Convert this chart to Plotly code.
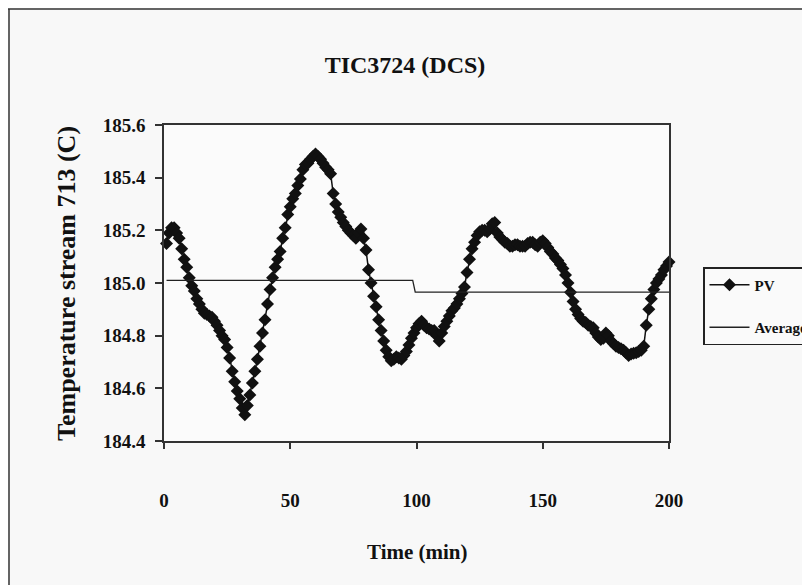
import plotly.graph_objects as go

# ---- data ----
pv_time = list(range(1, 203))
pv_values = [
    185.15, 185.19, 185.21, 185.21, 185.19, 185.17, 185.13, 185.09, 185.06, 185.02,
    184.99, 184.97, 184.94, 184.92, 184.90, 184.885, 184.88, 184.875, 184.87, 184.855,
    184.84, 184.82, 184.80, 184.785, 184.755, 184.715, 184.665, 184.625, 184.59, 184.56,
    184.525, 184.50, 184.535, 184.575, 184.62, 184.665, 184.71, 184.76, 184.81, 184.86,
    184.92, 184.975, 185.02, 185.06, 185.09, 185.12, 185.17, 185.21, 185.26, 185.29,
    185.32, 185.34, 185.37, 185.395, 185.43, 185.45, 185.455, 185.47, 185.48, 185.49,
    185.48, 185.47, 185.455, 185.44, 185.43, 185.415, 185.34, 185.30, 185.27, 185.25,
    185.23, 185.215, 185.20, 185.19, 185.18, 185.17, 185.19, 185.205, 185.17, 185.125,
    185.05, 185.00, 184.95, 184.91, 184.86, 184.82, 184.78, 184.745, 184.72, 184.705,
    184.71, 184.72, 184.715, 184.71, 184.725, 184.74, 184.765, 184.79, 184.81, 184.83,
    184.845, 184.855, 184.84, 184.83, 184.825, 184.82, 184.82, 184.80, 184.78, 184.81,
    184.835, 184.855, 184.875, 184.895, 184.905, 184.92, 184.94, 184.96, 184.985, 185.04,
    185.09, 185.13, 185.155, 185.18, 185.195, 185.20, 185.20, 185.195, 185.205, 185.225,
    185.23, 185.19, 185.175, 185.165, 185.155, 185.15, 185.14, 185.14, 185.145, 185.145,
    185.14, 185.14, 185.14, 185.15, 185.155, 185.155, 185.145, 185.14, 185.155, 185.16,
    185.15, 185.135, 185.12, 185.11, 185.095, 185.085, 185.07, 185.055, 185.03, 185.00,
    184.965, 184.93, 184.90, 184.88, 184.865, 184.855, 184.85, 184.84, 184.835, 184.83,
    184.81, 184.795, 184.785, 184.79, 184.81, 184.80, 184.78, 184.77, 184.76, 184.755,
    184.75, 184.745, 184.735, 184.725, 184.73, 184.733, 184.735, 184.74, 184.745, 184.76,
    184.84, 184.90, 184.94, 184.975, 185.00, 185.015, 185.03, 185.05, 185.065, 185.08,
    185.09, 185.10,
]
avg_time = [1, 98.5, 99.5, 202]
avg_values = [185.01, 185.01, 184.965, 184.965]

x_ticks = [0, 50, 100, 150, 200]
y_ticks = [184.4, 184.6, 184.8, 185.0, 185.2, 185.4, 185.6]

title_text = "TIC3724 (DCS)"
x_title = "Time (min)"
y_title = "Temperature stream 713 (C)"

# ---- figure ----
FONT = "Liberation Serif, Times New Roman, serif"
OFF = 8  # page body margin
W, H = 810, 585
# desired page positions of the plot area
L, R, T, B = 164 - OFF, 669 - OFF, 125 - OFF, 441 - OFF
pw, ph = R - L, B - T

def px_x(px):
    """page px -> paper x"""
    return (px - OFF - L) / pw

def px_y(py):
    """page py -> paper y"""
    return (B - (py - OFF)) / ph

fig = go.Figure()
fig.add_trace(go.Scatter(
    x=pv_time, y=pv_values, name="PV", mode="lines+markers",
    line=dict(color="#111111", width=1.5),
    marker=dict(symbol="diamond", size=10, color="#111111"),
    cliponaxis=False, legendgroup="a",
))
fig.add_trace(go.Scatter(
    x=avg_time, y=avg_values, name="Average", mode="lines",
    line=dict(color="#222222", width=1.3),
    legendgroup="b",
))

fig.update_layout(
    width=W, height=H,
    margin=dict(l=L, r=W - R, t=T, b=H - B, autoexpand=False),
    paper_bgcolor="#f8f8f8",
    plot_bgcolor="#fbfbfb",
    font=dict(family=FONT, color="#111111", size=16),
    title=dict(text="<b>" + title_text + "</b>", x=(405 - OFF) / W, xref="container",
               y=1 - (65 - OFF) / H, yref="container", yanchor="middle", xanchor="center",
               font=dict(family=FONT, size=24, color="#111111")),
    showlegend=True,
    legend=dict(
        x=px_x(703), y=px_y(267), xanchor="left", yanchor="top",
        bgcolor="#fafafa", bordercolor="#222222", borderwidth=1.5,
        font=dict(family=FONT, size=15, color="#111111", weight="bold"),
        tracegroupgap=20, traceorder="grouped", itemwidth=40,
    ),
    xaxis=dict(
        range=[0, 200], tickvals=x_ticks, ticktext=[str(v) for v in x_ticks],
        showgrid=False, zeroline=False, showline=True, mirror=True,
        linecolor="#333333", linewidth=1.5,
        ticks="outside", ticklen=6, tickwidth=1.5, tickcolor="#333333",
        tickfont=dict(family=FONT, size=19, weight="bold"),
        ticklabelstandoff=35,
    ),
    yaxis=dict(
        range=[184.4, 185.6], tickvals=y_ticks, ticktext=[f"{v:.1f}" for v in y_ticks],
        showgrid=False, zeroline=False, showline=True, mirror=True,
        linecolor="#333333", linewidth=1.5,
        ticks="outside", ticklen=7, tickwidth=1.5, tickcolor="#333333",
        tickfont=dict(family=FONT, size=19, weight="bold"),
        ticklabelstandoff=6,
    ),
    annotations=[
        dict(text="<b>" + y_title + "</b>", textangle=-90, x=px_x(66), y=px_y(284),
             xref="paper", yref="paper", showarrow=False, xanchor="center", yanchor="middle",
             font=dict(family=FONT, size=26, color="#111111")),
        dict(text="<b>" + x_title + "</b>", x=px_x(417), y=px_y(552),
             xref="paper", yref="paper", showarrow=False, xanchor="center", yanchor="middle",
             font=dict(family=FONT, size=21, color="#111111")),
    ],
    shapes=[
        dict(type="line", xref="paper", yref="paper",
             x0=px_x(8), x1=px_x(830), y0=px_y(9), y1=px_y(9),
             line=dict(color="#333333", width=1.5)),
        dict(type="line", xref="paper", yref="paper",
             x0=px_x(9), x1=px_x(9), y0=px_y(9), y1=px_y(600),
             line=dict(color="#333333", width=1.5)),
    ],
)

fig.write_html("out.html")
